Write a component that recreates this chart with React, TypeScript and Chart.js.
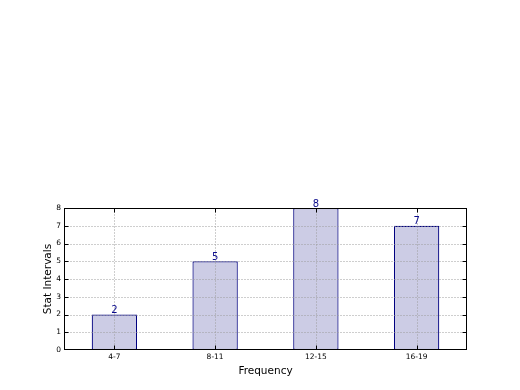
import React, { useEffect, useRef } from "react";
import { Chart, registerables } from "chart.js";

Chart.register(...registerables);

const categories = ["4-7", "8-11", "12-15", "16-19"];
const counts = [2, 5, 8, 7];
const yTicks = [0, 1, 2, 3, 4, 5, 6, 7, 8];

const FONT = "'DejaVu Sans', sans-serif";

const framePlugin = {
  id: "mplFrame",
  afterDatasetsDraw(chart: any) {
    const { ctx, chartArea } = chart;
    const L = Math.round(chartArea.left) + 0.5;
    const R = Math.round(chartArea.right) - 0.5;
    const T = Math.round(chartArea.top) + 0.5;
    const B = Math.round(chartArea.bottom) - 0.5;
    const xs = chart.scales.x;
    const ys = chart.scales.y;
    const py = (v: number) => Math.min(B, Math.max(T, Math.round(ys.getPixelForValue(v)) + 0.5));
    const px = (i: number) => Math.round(xs.getPixelForValue(i)) + 0.5;
    ctx.save();
    // dotted grid over bars
    ctx.strokeStyle = "#9c9c9c";
    ctx.lineWidth = 1;
    ctx.setLineDash([1, 2]);
    yTicks.forEach((v) => {
      if (v === yTicks[0] || v === yTicks[yTicks.length - 1]) return;
      const y = py(v);
      ctx.beginPath();
      ctx.moveTo(L, y);
      ctx.lineTo(R, y);
      ctx.stroke();
    });
    categories.forEach((_, i) => {
      const x = px(i);
      ctx.beginPath();
      ctx.moveTo(x, T);
      ctx.lineTo(x, B);
      ctx.stroke();
    });
    ctx.setLineDash([]);
    // inward ticks
    ctx.strokeStyle = "#000";
    yTicks.forEach((v) => {
      const y = py(v);
      ctx.beginPath();
      ctx.moveTo(L, y);
      ctx.lineTo(L + 4, y);
      ctx.moveTo(R, y);
      ctx.lineTo(R - 4, y);
      ctx.stroke();
    });
    categories.forEach((_, i) => {
      const x = px(i);
      ctx.beginPath();
      ctx.moveTo(x, B);
      ctx.lineTo(x, B - 4);
      ctx.moveTo(x, T);
      ctx.lineTo(x, T + 4);
      ctx.stroke();
    });
    // frame
    ctx.strokeStyle = "#000";
    ctx.lineWidth = 1;
    ctx.strokeRect(L, T, R - L, B - T);
    // value labels
    ctx.fillStyle = "#0c0c8c";
    ctx.font = `10px ${FONT}`;
    ctx.textAlign = "center";
    ctx.textBaseline = "bottom";
    const meta = chart.getDatasetMeta(0);
    meta.data.forEach((bar: any, i: number) => {
      ctx.fillText(String(counts[i]), bar.x, bar.y + 1);
    });
    ctx.restore();
  },
};

export default function App() {
  const ref = useRef<HTMLCanvasElement | null>(null);
  useEffect(() => {
    if (!ref.current) return;
    const chart = new Chart(ref.current, {
      type: "bar",
      data: {
        labels: categories,
        datasets: [
          {
            data: counts,
            backgroundColor: "rgb(204,204,229)",
            borderColor: "#000080",
            borderWidth: 1.2,
            borderSkipped: false,
            barPercentage: 0.45,
            categoryPercentage: 1,
          },
        ],
      },
      options: {
        animation: false,
        responsive: false,
        devicePixelRatio: 1,
        layout: { padding: { left: 0, top: 208, right: 53, bottom: 0 } },
        plugins: { legend: { display: false }, tooltip: { enabled: false } },
        scales: {
          x: {
            grid: { display: false, drawTicks: false, offset: true },
            border: { display: false },
            ticks: { color: "#000", font: { family: FONT, size: 7.5 }, padding: 3, maxRotation: 0 },
            title: {
              display: true,
              text: "Frequency",
              color: "#000",
              font: { family: FONT, size: 10.5 },
              padding: { top: 0, bottom: 12.5 },
            },
            afterFit: (s: any) => {
              s.height = 40;
            },
          },
          y: {
            min: 0,
            max: 8,
            grid: { display: false, drawTicks: false },
            border: { display: false },
            ticks: {
              color: "#000",
              font: { family: FONT, size: 7.5 },
              padding: 3,
              stepSize: 1,
            },
            title: {
              display: true,
              text: "Stat Intervals",
              color: "#000",
              font: { family: FONT, size: 10.5 },
              padding: { top: 42, bottom: 0 },
            },
            afterFit: (s: any) => {
              s.width = 64;
            },
          },
        },
      },
      plugins: [framePlugin],
    });
    return () => chart.destroy();
  }, []);
  return (
    <div style={{ position: "absolute", left: 0, top: 0, width: 520, height: 390, background: "#fff" }}>
      <canvas ref={ref} width={520} height={390} />
    </div>
  );
}
